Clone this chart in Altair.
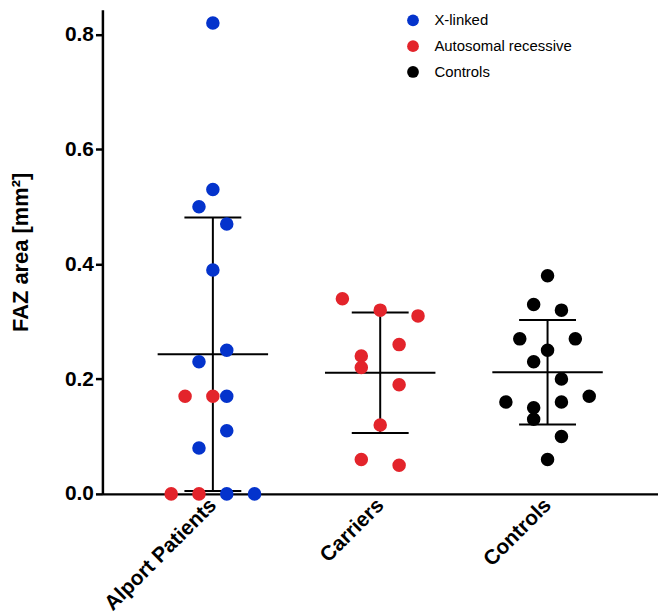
import altair as alt
import pandas as pd

categories = ["Alport Patients", "Carriers", "Controls"]

alport_values = [0.82, 0.53, 0.50, 0.47, 0.39, 0.25, 0.23, 0.17, 0.11, 0.08, 0.00, 0.00,
                 0.17, 0.17, 0.00, 0.00]
alport_types = ["X-linked"] * 12 + ["Autosomal recessive"] * 4
alport_slots = [0, 0, -1, 1, 0, 1, -1, 1, 1, -1, 1, 3, -2, 0, -3, -1]

carrier_values = [0.34, 0.32, 0.31, 0.26, 0.24, 0.22, 0.19, 0.12, 0.06, 0.05]
carrier_types = ["Autosomal recessive"] * 10
carrier_slots = [-2, 0, 2, 1, -1, -1, 1, 0, -1, 1]

control_values = [0.38, 0.33, 0.32, 0.27, 0.27, 0.25, 0.23, 0.20, 0.16, 0.17, 0.16, 0.15,
                  0.13, 0.10, 0.06]
control_types = ["Controls"] * 15
control_slots = [0, -1, 1, -2, 2, 0, -1, 1, -3, 3, 1, -1, -1, 1, 0]

slot_width = [0.083, 0.113, 0.083]  # spread of the scatter, in category units

legend_labels = ["X-linked", "Autosomal recessive", "Controls"]
legend_colors = ["#0433CC", "#E3242B", "#000000"]

rows = []
for idx, (vals, types, slots) in enumerate([
    (alport_values, alport_types, alport_slots),
    (carrier_values, carrier_types, carrier_slots),
    (control_values, control_types, control_slots),
]):
    for v, t, s in zip(vals, types, slots):
        rows.append({"group": categories[idx], "idx": idx, "value": v, "type": t,
                     "xpos": idx + s * slot_width[idx]})
df = pd.DataFrame(rows)

FONT = "Liberation Sans"
xscale = alt.Scale(domain=[-0.66, 2.66], nice=False, zero=False)
yscale = alt.Scale(domain=[0, 0.843], nice=False, zero=True)

label_expr = "['Alport Patients','Carriers','Controls'][datum.value]"
xaxis = alt.Axis(values=[0, 1, 2], labelExpr=label_expr, ticks=False, grid=False,
                 labelAngle=315, labelAlign="right", labelBaseline="middle",
                 labelFontSize=21, labelFontWeight="bold", labelFont=FONT, labelColor="black",
                 labelPadding=8, domainColor="black", domainWidth=2.5)
yaxis = alt.Axis(values=[0, 0.2, 0.4, 0.6, 0.8], format=".1f", grid=False,
                 labelFontSize=21, labelFontWeight="bold", labelFont=FONT, labelColor="black",
                 tickSize=7, tickWidth=2.5, tickColor="black", labelPadding=2,
                 domainColor="black", domainWidth=2.5,
                 titleFontSize=22, titleFontWeight="bold", titleFont=FONT, titleColor="black",
                 titlePadding=32)
YTITLE = "FAZ area [mm²]"

base = alt.Chart(df)

stats = base.transform_aggregate(
    mean="mean(value)", sd="stdev(value)", groupby=["idx"]
).transform_calculate(
    lo="datum.mean - datum.sd",
    hi="datum.mean + datum.sd",
    ml="datum.idx - 0.33",
    mr="datum.idx + 0.33",
    cl="datum.idx - 0.17",
    cr="datum.idx + 0.17",
)

rule_kw = dict(color="black", strokeWidth=2)

vline = stats.mark_rule(**rule_kw).encode(
    x=alt.X("idx:Q", scale=xscale, axis=xaxis, title=None),
    y=alt.Y("lo:Q", scale=yscale, axis=yaxis, title=YTITLE),
    y2="hi:Q",
)
meanline = stats.mark_rule(**rule_kw).encode(
    x=alt.X("ml:Q", scale=xscale, axis=xaxis, title=None),
    x2="mr:Q",
    y=alt.Y("mean:Q", scale=yscale, axis=yaxis, title=YTITLE),
)
caphi = stats.mark_rule(**rule_kw).encode(
    x=alt.X("cl:Q", scale=xscale, axis=xaxis, title=None),
    x2="cr:Q",
    y=alt.Y("hi:Q", scale=yscale, axis=yaxis, title=YTITLE),
)
caplo = stats.mark_rule(**rule_kw).encode(
    x=alt.X("cl:Q", scale=xscale, axis=xaxis, title=None),
    x2="cr:Q",
    y=alt.Y("lo:Q", scale=yscale, axis=yaxis, title=YTITLE),
)

points = base.mark_circle(size=185, opacity=1).encode(
    x=alt.X("xpos:Q", scale=xscale, axis=xaxis, title=None),
    y=alt.Y("value:Q", scale=yscale, axis=yaxis, title=YTITLE),
    color=alt.Color("type:N",
                    scale=alt.Scale(domain=legend_labels, range=legend_colors),
                    legend=alt.Legend(title=None, orient="none", legendX=305, legendY=3,
                                      symbolType="circle", symbolSize=140,
                                      symbolStrokeWidth=0, labelFontSize=15,
                                      labelFont=FONT, labelColor="black",
                                      labelOffset=14, rowPadding=10, padding=0)),
)

chart = alt.layer(vline, meanline, caphi, caplo, points).properties(
    width=559, height=487,
    autosize=alt.AutoSizeParams(type="none"),
    padding={"left": 95, "top": 0, "right": 0, "bottom": 122},
).configure_view(stroke=None)

chart.save("out.html", embed_options={"renderer": "svg", "actions": False})
